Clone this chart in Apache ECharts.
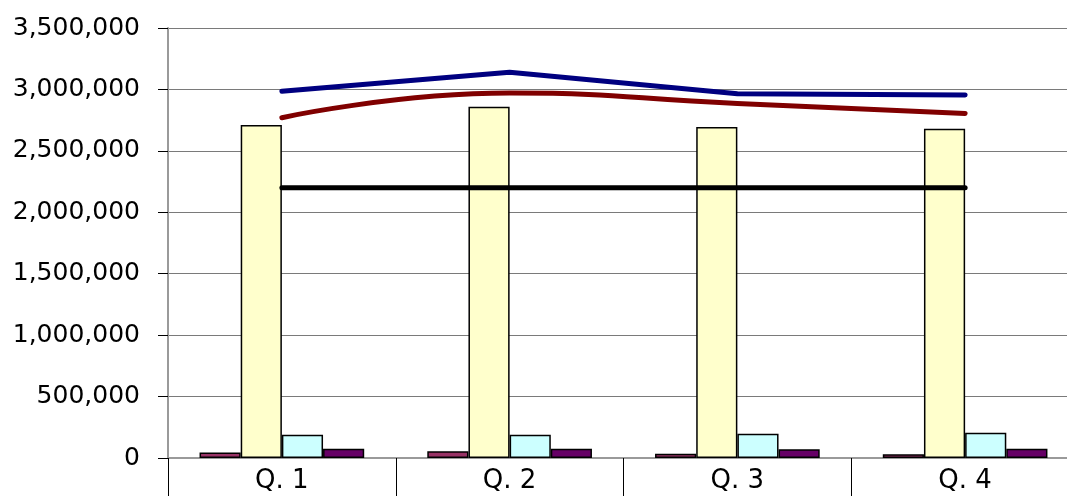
<!DOCTYPE html>
<html>
<head>
<meta charset="utf-8">
<script src="https://cdn.jsdelivr.net/npm/echarts@6/dist/echarts.min.js"></script>
<style>
  html, body { margin: 0; padding: 0; background: #ffffff; overflow: hidden; }
  #chart { width: 1067px; height: 496px; }
</style>
</head>
<body>
<div id="chart"></div>
<script>
// Quarterly figures
const categories = ['Q. 1', 'Q. 2', 'Q. 3', 'Q. 4'];
const plumBars = [45000, 55000, 35000, 30000];
const yellowBars = [2710000, 2860000, 2695000, 2680000];
const cyanBars = [190000, 190000, 198000, 206000];
const purpleBars = [75000, 75000, 72000, 75000];
const blueLine = [2985000, 3140000, 2965000, 2955000];
const redLine = [2770000, 2970000, 2885000, 2805000];
const blackLine = [2200000, 2200000, 2200000, 2200000];
const yTicks = [0, 500000, 1000000, 1500000, 2000000, 2500000, 3000000, 3500000];

const chart = echarts.init(document.getElementById('chart'), null, { renderer: 'canvas' });

const barStyle = (color) => ({ color: color, borderColor: '#000000', borderWidth: 1.5 });
const lineStyle = (color) => ({ color: color, width: 5, cap: 'round', join: 'round' });

chart.setOption({
  animation: false,
  backgroundColor: '#ffffff',
  // the plot runs a little past the right edge of the canvas
  grid: { left: 168, right: -12, top: 28, bottom: 38, containLabel: false, outerBoundsMode: 'none' },
  xAxis: {
    type: 'category',
    data: categories,
    boundaryGap: true,
    axisLine: { show: true, lineStyle: { color: '#9a9a9a', width: 2 } },
    axisTick: { show: true, length: 40, lineStyle: { color: '#000000', width: 1 } },
    axisLabel: {
      color: '#000000', fontFamily: 'DejaVu Sans', fontSize: 26, margin: 10
    },
    splitLine: { show: false }
  },
  yAxis: {
    type: 'value',
    min: yTicks[0],
    max: yTicks[yTicks.length - 1],
    interval: yTicks[1] - yTicks[0],
    axisLine: { show: true, lineStyle: { color: '#9a9a9a', width: 2 } },
    axisTick: { show: true, inside: false, length: 10, lineStyle: { color: '#000000', width: 1 } },
    axisLabel: {
      color: '#000000', fontFamily: 'DejaVu Sans', fontSize: 25, margin: 28,
      formatter: (v) => v.toLocaleString('en-US')
    },
    splitLine: { show: true, lineStyle: { color: '#7a7a7a', width: 1 } }
  },
  series: [
    { type: 'bar', data: plumBars, barGap: '0%', barCategoryGap: '27.7%', itemStyle: barStyle('#993366') },
    { type: 'bar', data: yellowBars, itemStyle: barStyle('#FFFFCC') },
    { type: 'bar', data: cyanBars, itemStyle: barStyle('#CCFFFF') },
    { type: 'bar', data: purpleBars, itemStyle: barStyle('#660066') },
    { type: 'line', data: blueLine, showSymbol: false, symbol: 'none', lineStyle: lineStyle('#000080'), z: 3 },
    { type: 'line', data: redLine, smooth: true, showSymbol: false, symbol: 'none', lineStyle: lineStyle('#800000'), z: 3 },
    { type: 'line', data: blackLine, showSymbol: false, symbol: 'none', lineStyle: lineStyle('#000000'), z: 3 }
  ]
});
</script>
</body>
</html>
